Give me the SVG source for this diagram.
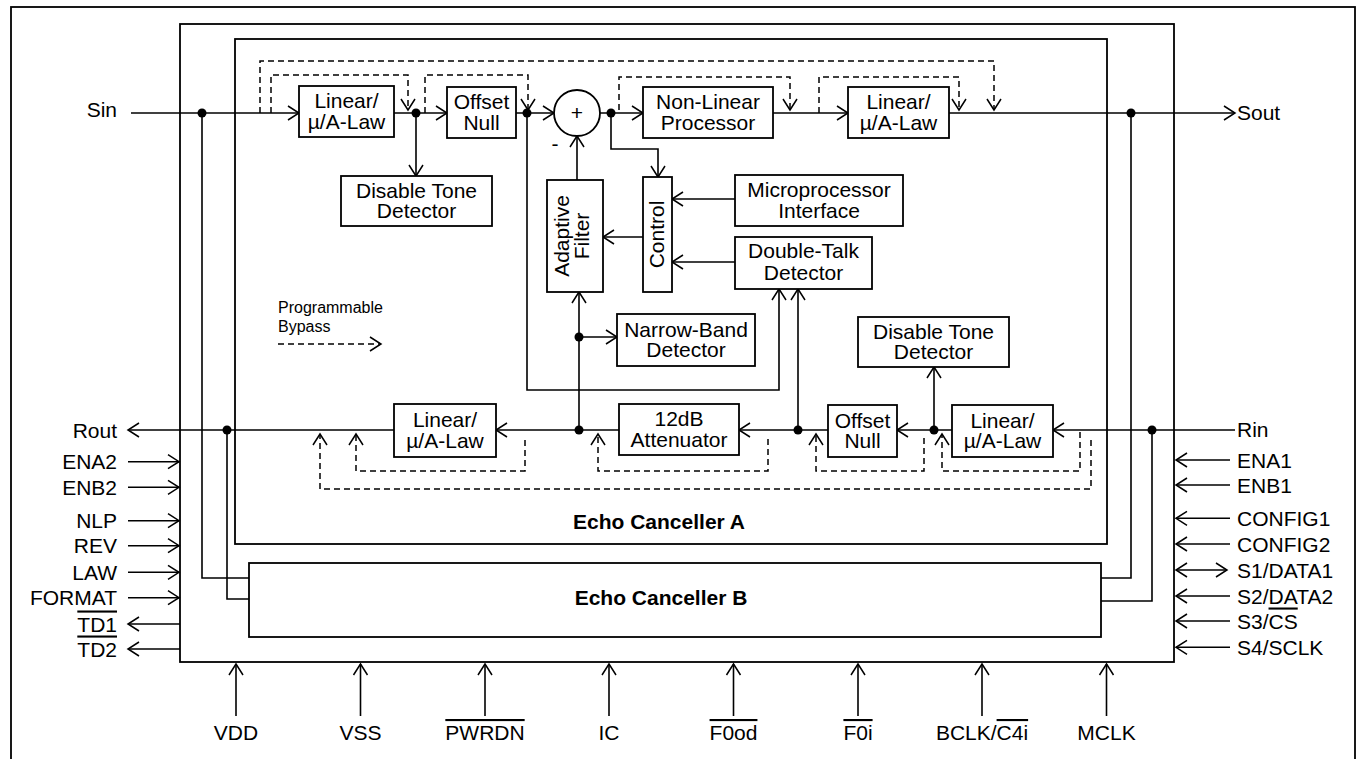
<svg xmlns="http://www.w3.org/2000/svg" width="1356" height="759" viewBox="0 0 1356 759">
<defs>
<marker id="ah" viewBox="-13 -9 15 18" refX="0" refY="0" markerWidth="15" markerHeight="18" markerUnits="userSpaceOnUse" orient="auto-start-reverse">
<path d="M-11,-7 L0,0 L-11,7" fill="none" stroke="#000" stroke-width="1.5" stroke-dasharray="none"/>
</marker>
<style>
.box{fill:#fff;stroke:#000;stroke-width:1.8}
.frame{fill:none;stroke:#000;stroke-width:1.8}
.w{fill:none;stroke:#000;stroke-width:1.6}
.a{fill:none;stroke:#000;stroke-width:1.6;marker-end:url(#ah)}
.aa{fill:none;stroke:#000;stroke-width:1.6;marker-start:url(#ah);marker-end:url(#ah)}
.d{fill:none;stroke:#000;stroke-width:1.5;stroke-dasharray:6,4}
.da{fill:none;stroke:#000;stroke-width:1.5;stroke-dasharray:6,4;marker-end:url(#ah)}
.dot{fill:#000}
text{font-family:"Liberation Sans",Arial,Helvetica,sans-serif;font-size:21px;fill:#000}
.c{text-anchor:middle}
.e{text-anchor:end}
.b{font-weight:bold;text-anchor:middle}
.s{font-size:16px}
.ov{text-decoration:overline}
</style>
</defs>

<rect class="frame" x="11" y="7" width="1344" height="760"/>

<g id="chip"><rect class="frame" x="180" y="24" width="994" height="638"/></g>
<g id="echoA"><rect class="frame" x="235" y="39" width="872" height="505"/>
<text class="b" x="659" y="529">Echo Canceller A</text></g>
<g id="echoB"><rect class="box" x="249" y="563" width="852" height="74"/>
<text class="b" x="661" y="605">Echo Canceller B</text></g>

<g id="connectors">
<!-- top path -->
<path class="a" d="M131,113 H299"/>
<path class="a" d="M394,113 H447"/>
<path class="a" d="M416,113 V176"/>
<path class="a" d="M516,113 H554"/>
<path class="a" d="M600,113 H643"/>
<path class="a" d="M611,113 V149 H658 V177"/>
<path class="a" d="M773,113 H848"/>
<path class="a" d="M949,113 H1235"/>
<path class="a" d="M577,180 V136"/>
<path class="a" d="M735,199 H672"/>
<path class="a" d="M643,237 H603"/>
<path class="a" d="M735,262 H672"/>
<path class="a" d="M527,113 V390 H779 V289"/>
<path class="a" d="M798,430 V289"/>
<!-- bottom path -->
<path class="a" d="M1235,430 H1053"/>
<path class="a" d="M952,430 H897"/>
<path class="a" d="M934,430 V367"/>
<path class="a" d="M828,430 H739"/>
<path class="a" d="M619,430 H496"/>
<path class="a" d="M579,430 V292"/>
<path class="a" d="M579,337 H617"/>
<path class="a" d="M394,430 H128"/>
<!-- to echo canceller B -->
<path class="w" d="M202,113 V578 H249"/>
<path class="w" d="M227,430 V599 H249"/>
<path class="w" d="M1131,113 V578 H1101"/>
<path class="w" d="M1152,430 V601 H1101"/>
<!-- programmable bypass top -->
<path class="da" d="M260,113 V61 H994 V110"/>
<path class="da" d="M271,113 V75 H408 V110"/>
<path class="da" d="M425,113 V75 H528 V110"/>
<path class="da" d="M619,110 V77 H790 V110"/>
<path class="da" d="M819,113 V77 H959 V110"/>
<!-- programmable bypass bottom -->
<path class="da" d="M1091,440 V489 H320 V434"/>
<path class="da" d="M525,440 V471 H356 V434"/>
<path class="da" d="M768,439 V471 H598 V434"/>
<path class="da" d="M924,438 V471 H816 V434"/>
<path class="da" d="M1080,432 V471 H942 V434"/>
<!-- legend -->
<path class="da" d="M278,344 H381"/>
<!-- dots -->
<circle class="dot" cx="202" cy="113" r="4.5"/>
<circle class="dot" cx="416" cy="113" r="4.5"/>
<circle class="dot" cx="527" cy="113" r="4.5"/>
<circle class="dot" cx="611" cy="113" r="4.5"/>
<circle class="dot" cx="1131" cy="113" r="4.5"/>
<circle class="dot" cx="579" cy="337" r="4.5"/>
<circle class="dot" cx="579" cy="430" r="4.5"/>
<circle class="dot" cx="798" cy="430" r="4.5"/>
<circle class="dot" cx="934" cy="430" r="4.5"/>
<circle class="dot" cx="1152" cy="430" r="4.5"/>
<circle class="dot" cx="227" cy="430" r="4.5"/>
<!-- left pins -->
<path class="a" d="M128,461.7 H179"/>
<path class="a" d="M128,487.3 H179"/>
<path class="a" d="M128,520.7 H179"/>
<path class="a" d="M128,545.7 H179"/>
<path class="a" d="M128,572.3 H179"/>
<path class="a" d="M128,597.7 H179"/>
<path class="a" d="M180,624 H128"/>
<path class="a" d="M180,649 H128"/>
<!-- right pins -->
<path class="a" d="M1230,460 H1176"/>
<path class="a" d="M1230,485 H1176"/>
<path class="a" d="M1230,518.3 H1176"/>
<path class="a" d="M1230,544 H1176"/>
<path class="aa" d="M1176,570 H1227"/>
<path class="a" d="M1230,596 H1176"/>
<path class="a" d="M1230,621 H1176"/>
<path class="a" d="M1230,647.3 H1176"/>
<!-- bottom pins -->
<path class="a" d="M236,716 V664"/>
<path class="a" d="M360.5,716 V664"/>
<path class="a" d="M485,716 V664"/>
<path class="a" d="M609,716 V664"/>
<path class="a" d="M733.5,716 V664"/>
<path class="a" d="M858,716 V664"/>
<path class="a" d="M982,716 V664"/>
<path class="a" d="M1106.5,716 V664"/>
</g>

<g id="lin1"><rect class="box" x="299" y="86" width="95" height="51"/>
<text class="c" x="346.5" y="108">Linear/</text><text class="c" x="346.5" y="128.5">µ/A-Law</text></g>
<g id="dtd1"><rect class="box" x="341" y="176" width="151" height="50"/>
<text class="c" x="416.5" y="197.5">Disable Tone</text><text class="c" x="416.5" y="218">Detector</text></g>
<g id="on1"><rect class="box" x="447" y="87" width="69" height="51"/>
<text class="c" x="481.5" y="109">Offset</text><text class="c" x="481.5" y="129.5">Null</text></g>
<g id="sum"><circle class="box" cx="577" cy="113" r="23"/>
<text class="c" x="577" y="120">+</text><text class="c" x="555" y="151">-</text></g>
<g id="nlp"><rect class="box" x="643" y="87" width="130" height="51"/>
<text class="c" x="708" y="109">Non-Linear</text><text class="c" x="708" y="129.5">Processor</text></g>
<g id="lin2"><rect class="box" x="848" y="87" width="101" height="51"/>
<text class="c" x="898.5" y="109">Linear/</text><text class="c" x="898.5" y="129.5">µ/A-Law</text></g>
<g id="af"><rect class="box" x="547" y="180" width="56" height="112"/>
<text class="c" transform="translate(569,236) rotate(-90)">Adaptive</text>
<text class="c" transform="translate(589,236) rotate(-90)">Filter</text></g>
<g id="ctrl"><rect class="box" x="643" y="177" width="29" height="115"/>
<text class="c" transform="translate(664,234.5) rotate(-90)">Control</text></g>
<g id="mpi"><rect class="box" x="735" y="175" width="168" height="51"/>
<text class="c" x="819" y="197">Microprocessor</text><text class="c" x="819" y="217.5">Interface</text></g>
<g id="dtk"><rect class="box" x="735" y="237" width="137" height="52"/>
<text class="c" x="803.5" y="258">Double-Talk</text><text class="c" x="803.5" y="279.5">Detector</text></g>
<g id="nbd"><rect class="box" x="617" y="314" width="138" height="52"/>
<text class="c" x="686" y="336.5">Narrow-Band</text><text class="c" x="686" y="357">Detector</text></g>
<g id="dtd2"><rect class="box" x="858" y="317" width="151" height="50"/>
<text class="c" x="933.5" y="338.5">Disable Tone</text><text class="c" x="933.5" y="359">Detector</text></g>
<g id="lin3"><rect class="box" x="394" y="404" width="102" height="53"/>
<text class="c" x="445" y="427">Linear/</text><text class="c" x="445" y="447.5">µ/A-Law</text></g>
<g id="att"><rect class="box" x="619" y="404" width="120" height="51"/>
<text class="c" x="679" y="426">12dB</text><text class="c" x="679" y="446.5">Attenuator</text></g>
<g id="on2"><rect class="box" x="828" y="405" width="69" height="52"/>
<text class="c" x="862.5" y="427.5">Offset</text><text class="c" x="862.5" y="448">Null</text></g>
<g id="lin4"><rect class="box" x="952" y="405" width="101" height="52"/>
<text class="c" x="1002.5" y="427.5">Linear/</text><text class="c" x="1002.5" y="448">µ/A-Law</text></g>

<g id="legend">
<text class="s" x="278" y="313">Programmable</text>
<text class="s" x="278" y="332">Bypass</text>
</g>

<g id="pins-left">
<text class="e" x="117" y="117">Sin</text>
<text class="e" x="117" y="438">Rout</text>
<text class="e" x="117" y="469">ENA2</text>
<text class="e" x="117" y="494.5">ENB2</text>
<text class="e" x="117" y="528">NLP</text>
<text class="e" x="117" y="553">REV</text>
<text class="e" x="117" y="579.5">LAW</text>
<text class="e" x="117" y="605">FORMAT</text>
<text class="e" x="117" y="631.5"><tspan class="ov">TD1</tspan></text>
<text class="e" x="117" y="656.5"><tspan class="ov">TD2</tspan></text>
</g>
<g id="pins-right">
<text x="1237" y="120">Sout</text>
<text x="1237" y="436.5">Rin</text>
<text x="1237" y="467.5">ENA1</text>
<text x="1237" y="492.5">ENB1</text>
<text x="1237" y="525.8">CONFIG1</text>
<text x="1237" y="551.5">CONFIG2</text>
<text x="1237" y="577.5">S1/DATA1</text>
<text x="1237" y="603.5">S2/DATA2</text>
<text x="1237" y="628.5">S3/<tspan class="ov">CS</tspan></text>
<text x="1237" y="654.8">S4/SCLK</text>
</g>
<g id="pins-bottom">
<text class="c" x="236" y="740">VDD</text>
<text class="c" x="360.5" y="740">VSS</text>
<text class="c" x="485" y="740"><tspan class="ov">PWRDN</tspan></text>
<text class="c" x="609" y="740">IC</text>
<text class="c" x="733.5" y="740"><tspan class="ov">F0od</tspan></text>
<text class="c" x="858" y="740"><tspan class="ov">F0i</tspan></text>
<text class="c" x="982" y="740">BCLK/<tspan class="ov">C4i</tspan></text>
<text class="c" x="1106.5" y="740">MCLK</text>
</g>
</svg>
